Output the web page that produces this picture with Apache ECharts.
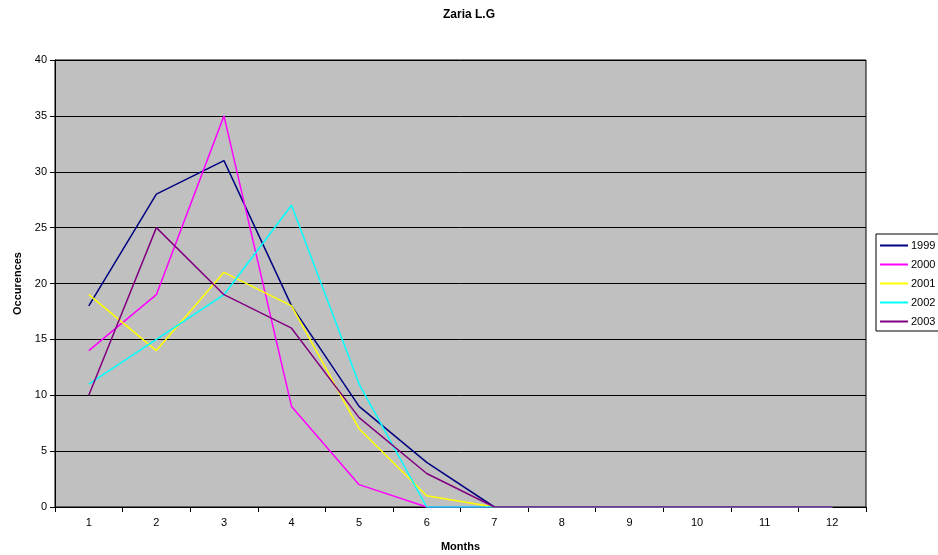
<!DOCTYPE html>
<html>
<head>
<meta charset="utf-8">
<script src="https://cdn.jsdelivr.net/npm/echarts@6/dist/echarts.min.js"></script>
<style>html,body{margin:0;padding:0;background:#fff}#chart{width:938px;height:555px}</style>
</head>
<body>
<div id="chart"></div>
<script>
// Monthly occurrences at Zaria L.G, one series per year
const months = ['1','2','3','4','5','6','7','8','9','10','11','12'];
const years = ['1999','2000','2001','2002','2003'];
const y1999 = [18, 28, 31, 18, 9, 4, 0, 0, 0, 0, 0, 0];
const y2000 = [14, 19, 35, 9, 2, 0, 0, 0, 0, 0, 0, 0];
const y2001 = [19, 14, 21, 18, 7, 1, 0, 0, 0, 0, 0, 0];
const y2002 = [11, 15, 19, 27, 11, 0, 0, 0, 0, 0, 0, 0];
const y2003 = [10, 25, 19, 16, 8, 3, 0, 0, 0, 0, 0, 0];
const yTicks = [0, 5, 10, 15, 20, 25, 30, 35, 40];

const seriesData = [y1999, y2000, y2001, y2002, y2003];
const colors = ['#000080', '#FF00FF', '#FFFF00', '#00FFFF', '#800080'];
const font = 'Liberation Sans, Arial, sans-serif';

const chart = echarts.init(document.getElementById('chart'), null, {renderer: 'canvas'});
chart.setOption({
  animation: false,
  title: {
    text: 'Zaria L.G', left: 'center', top: 4,
    textStyle: {fontFamily: font, fontSize: 12, fontWeight: 'bold', color: '#000'}
  },
  grid: {
    left: 55, right: 72, top: 60, bottom: 48,
    outerBoundsMode: 'none', containLabel: false,
    show: true, backgroundColor: '#C0C0C0', borderColor: '#000', borderWidth: 1
  },
  legend: {
    orient: 'vertical', left: 876, top: 234,
    data: years,
    itemWidth: 28, itemHeight: 2, itemGap: 8,
    icon: 'rect',
    padding: [6, 10, 4, 4],
    backgroundColor: '#fff', borderColor: '#000', borderWidth: 1,
    textStyle: {fontFamily: font, fontSize: 11, color: '#000', padding: [0, 0, 0, -2]}
  },
  xAxis: {
    type: 'category', data: months, boundaryGap: true,
    name: 'Months', nameLocation: 'middle', nameGap: 34,
    nameTextStyle: {fontFamily: font, fontSize: 11, fontWeight: 'bold', color: '#000'},
    axisLine: {lineStyle: {color: '#000', width: 1}},
    axisTick: {show: true, alignWithLabel: false, length: 5, lineStyle: {color: '#000'}},
    axisLabel: {fontFamily: font, fontSize: 11, color: '#000', margin: 10}
  },
  yAxis: {
    type: 'value', min: yTicks[0], max: yTicks[yTicks.length - 1], interval: yTicks[1] - yTicks[0],
    name: 'Occurences', nameLocation: 'middle', nameGap: 32, nameRotate: 90,
    nameTextStyle: {fontFamily: font, fontSize: 11, fontWeight: 'bold', color: '#000'},
    axisLine: {show: true, lineStyle: {color: '#000'}},
    axisTick: {show: true, length: 5, lineStyle: {color: '#000'}},
    axisLabel: {fontFamily: font, fontSize: 11, color: '#000', margin: 8},
    splitLine: {show: true, lineStyle: {color: '#000', width: 1}}
  },
  series: years.map((y, i) => ({
    name: y, type: 'line', data: seriesData[i],
    symbol: 'none', lineStyle: {color: colors[i], width: 1.5},
    itemStyle: {color: colors[i]}
  }))
});
</script>
</body>
</html>
